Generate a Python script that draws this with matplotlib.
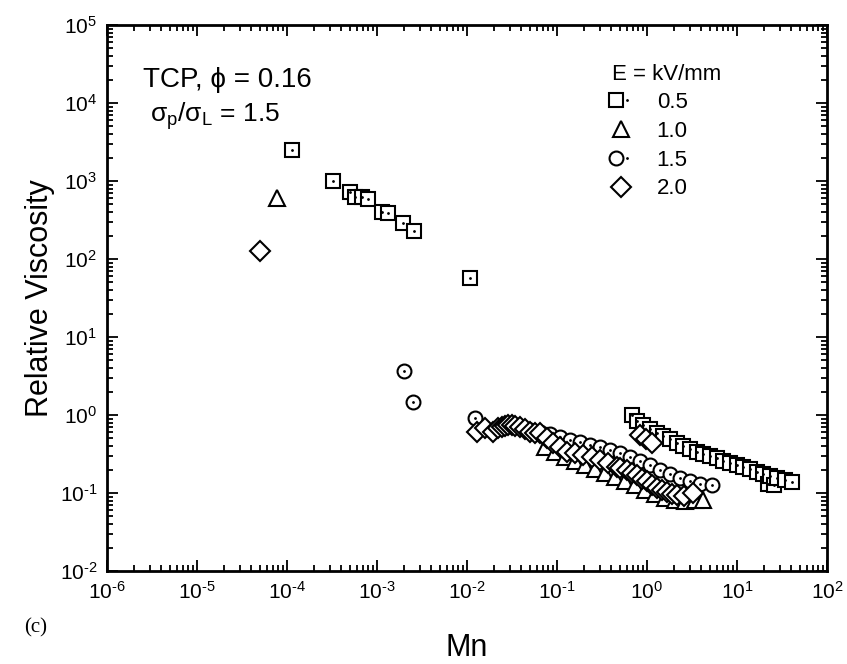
import matplotlib
matplotlib.use("Agg")
import numpy as np
import matplotlib.pyplot as plt
from matplotlib.ticker import LogLocator, NullFormatter, FuncFormatter, FixedLocator
from matplotlib.legend_handler import HandlerTuple

plt.rcParams['font.family'] = ['Liberation Sans', 'DejaVu Sans']
plt.rcParams['mathtext.fontset'] = 'custom'
plt.rcParams['mathtext.rm'] = 'Liberation Sans'
plt.rcParams['mathtext.it'] = 'Liberation Sans:italic'

# E = 0.5 kV/mm
sq_mn = [1.13e-4, 3.24e-4, 5.0e-4, 5.7e-4, 6.8e-4, 7.9e-4, 1.13e-3, 1.34e-3, 1.95e-3, 2.58e-3, 1.08e-2,
         0.676, 0.769, 0.91, 1.08, 1.28, 1.52, 1.80, 2.14, 2.53, 3.0, 3.56, 4.22, 5.01, 5.94, 7.04,
         8.36, 9.93, 11.7, 13.9, 16.6, 19.6, 22.0, 23.3, 26.0, 27.6, 34.1, 40.5]
sq_v = [2500, 1000, 720, 620, 630, 590, 404, 393, 290, 228, 57,
        1.0, 0.845, 0.744, 0.656, 0.593, 0.538, 0.488, 0.441, 0.401, 0.363, 0.338, 0.316, 0.298, 0.279, 0.259,
        0.245, 0.228, 0.217, 0.203, 0.188, 0.175, 0.130, 0.165, 0.128, 0.154, 0.147, 0.140]

# E = 1.0 kV/mm
tri_mn = [7.8e-5, 0.0736, 0.0951, 0.123, 0.158, 0.205, 0.264, 0.341, 0.441, 0.570, 0.736, 0.951,
          1.23, 1.58, 2.05, 2.64, 3.41, 4.19]
tri_v = [600, 0.389, 0.336, 0.290, 0.257, 0.229, 0.203, 0.180, 0.160, 0.143, 0.127, 0.109,
         0.097, 0.086, 0.081, 0.079, 0.081, 0.081]

# E = 1.5 kV/mm
cir_mn = [2.01e-3, 2.53e-3, 0.0123, 0.0501, 0.0647, 0.0836, 0.108, 0.139, 0.180, 0.233, 0.301, 0.388,
          0.501, 0.647, 0.836, 1.08, 1.39, 1.80, 2.33, 3.0, 3.88, 5.27]
cir_v = [3.66, 1.48, 0.916, 0.643, 0.605, 0.570, 0.522, 0.478, 0.451, 0.412, 0.389, 0.356,
         0.326, 0.290, 0.257, 0.229, 0.197, 0.175, 0.156, 0.143, 0.130, 0.127]

# E = 2.0 kV/mm
dia_mn = [5.0e-5, 0.0128, 0.0158, 0.0196, 0.0223, 0.0243, 0.0264, 0.0288, 0.0314, 0.0341, 0.0388, 0.0441,
          0.0501, 0.0570, 0.0647, 0.0769, 0.091, 0.108, 0.128, 0.158, 0.196, 0.243, 0.301, 0.372, 0.460,
          0.501, 0.594, 0.681, 0.769, 0.880, 0.993, 1.136, 1.28, 1.468, 1.66, 1.897, 2.14, 2.577, 3.27,
          0.836, 0.976, 1.136]
dia_v = [128, 0.611, 0.675, 0.611, 0.675, 0.708, 0.723, 0.738, 0.738, 0.723, 0.695, 0.656,
         0.611, 0.582, 0.582, 0.502, 0.441, 0.393, 0.338, 0.324, 0.307, 0.292, 0.265, 0.240, 0.217,
         0.209, 0.197, 0.180, 0.170, 0.151, 0.143, 0.127, 0.116, 0.109, 0.103, 0.097, 0.094, 0.0916, 0.099,
         0.555, 0.492, 0.438]

labels = ['0.5', '1.0', '1.5', '2.0']
x_decades = range(-6, 3)
y_decades = range(-2, 6)

W, H = 847, 664
fig = plt.figure(figsize=(W / 100, H / 100), dpi=100)
ax = fig.add_axes([107 / W, 1 - 571 / H, 720 / W, 546 / H])

mk = dict(ls='none', mfc='white', mec='black', mew=1.5)
dot = dict(ls='none', marker='.', ms=2, color='black')

tri, = ax.plot(tri_mn, tri_v, marker='^', ms=12, **mk)
cir, = ax.plot(cir_mn, cir_v, marker='o', ms=10, **mk)
cird, = ax.plot(cir_mn, cir_v, **dot)
sq, = ax.plot(sq_mn, sq_v, marker='s', ms=9.5, **mk)
sqd, = ax.plot(sq_mn, sq_v, **dot)
dia, = ax.plot(dia_mn, dia_v, marker='D', ms=10, **mk)

ax.set_xscale('log')
ax.set_yscale('log')
ax.set_xlim(1e-6, 1e2)
ax.set_ylim(1e-2, 1e5)


def pow_label(v, pos):
    e = int(round(np.log10(v)))
    return r'$\mathregular{10^{%s}}$' % str(e).replace('-', '\u2010')


ax.xaxis.set_major_locator(FixedLocator([10.0 ** k for k in x_decades]))
ax.yaxis.set_major_locator(FixedLocator([10.0 ** k for k in y_decades]))
for a in (ax.xaxis, ax.yaxis):
    a.set_minor_locator(LogLocator(base=10, subs=range(2, 10), numticks=20))
    a.set_major_formatter(FuncFormatter(pow_label))
    a.set_minor_formatter(NullFormatter())

ax.tick_params(which='both', direction='in', top=True, right=True, width=1.3, labelsize=15)
ax.tick_params(which='major', length=8, pad=7)
ax.tick_params(which='minor', length=4)
for s in ax.spines.values():
    s.set_linewidth(2)

fig.text(143 / W, 1 - 87 / H, 'TCP, \u03d5 = 0.16', fontsize=20, va='baseline')
fig.text(150 / W, 1 - 122 / H, r'$\mathregular{\sigma_p/\sigma_L}$ = 1.5', fontsize=19, va='baseline')

fig.text(612 / W, 1 - 75 / H, 'E = kV/mm', fontsize=16, va='center')
ax.legend([(sq, sqd), tri, (cir, cird), dia], labels,
          handler_map={tuple: HandlerTuple(ndivide=None)},
          loc='upper left', bbox_to_anchor=(610 / W, 1 - 92 / H), bbox_transform=fig.transFigure,
          frameon=False, fontsize=16, borderpad=0, handlelength=1.0, handletextpad=1.1,
          labelspacing=0.35, borderaxespad=0)

fig.text(40 / W, 1 - 298 / H, 'Relative Viscosity', fontsize=22, rotation=90, ha='center', va='center')
fig.text(467 / W, 1 - 648 / H, 'Mn', fontsize=22, ha='center', va='center')
fig.text(24 / W, 1 - 628 / H, '(c)', fontsize=15, family='Liberation Serif', va='center')

fig.savefig('out.png', dpi=100)
